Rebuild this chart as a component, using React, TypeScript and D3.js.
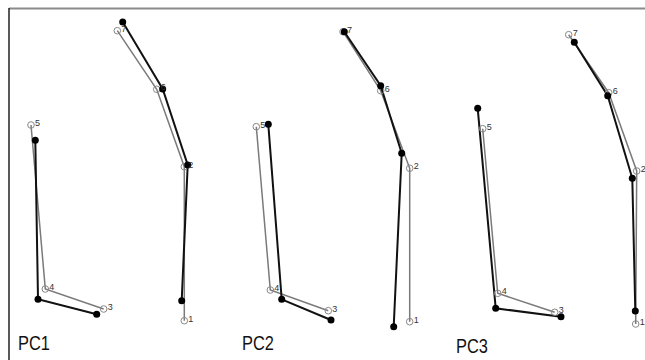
import React from "react";
import { scaleLinear, line } from "d3";

// landmark order along each outline
const armIds = [1, 2, 6, 7];
const footIds = [3, 4, 5];

// mean shape (grey, open) and PC shape (black, filled), x/y in px-like units, y up
const pc1Mean = { 1: [164.3, 9.3], 2: [164.3, 163.3], 6: [136.7, 240.7], 7: [97.3, 299.3], 5: [11, 205], 4: [25.3, 41], 3: [83.7, 21] };
const pc1Shape = { 1: [161.7, 29.3], 2: [167.7, 165], 6: [142.7, 241], 7: [102.7, 308], 5: [15.3, 189.7], 4: [18, 30.7], 3: [76.7, 15.7] };
const pc2Mean = { 1: [164.7, 8.3], 2: [164.7, 161.7], 6: [135.7, 239.3], 7: [98, 298.3], 5: [11.3, 203.3], 4: [25.3, 40], 3: [83.3, 19.3] };
const pc2Shape = { 1: [148.7, 3.3], 2: [156.7, 176.7], 6: [135.7, 244.3], 7: [99.3, 298.3], 5: [23.3, 205.7], 4: [36.7, 30.7], 3: [86, 10] };
const pc3Mean = { 1: [164.7, 6], 2: [165.7, 159], 6: [137.7, 237.3], 7: [97.7, 295.3], 5: [11.7, 201.3], 4: [26.7, 36.7], 3: [83.7, 17.7] };
const pc3Shape = { 1: [164.3, 19], 2: [161.3, 151.7], 6: [136.7, 234.3], 7: [103.3, 287.7], 5: [6.7, 221.7], 4: [24.7, 21.7], 3: [90, 13.3] };

const panelNames = ["PC1", "PC2", "PC3"];
const panelMeans = [pc1Mean, pc2Mean, pc3Mean];
const panelShapes = [pc1Shape, pc2Shape, pc3Shape];

const W = 645;
const H = 360;
const panelX = [20, 245, 471];
const labelPos = [[18, 350], [242, 350], [456, 353]];

const y = scaleLinear().domain([0, 300]).range([330, 30]);

function Panel({ i }) {
  const x = scaleLinear().domain([0, 200]).range([panelX[i], panelX[i] + 200]);
  const path = line()
    .x((d) => x(d[0]))
    .y((d) => y(d[1]));
  const mean = panelMeans[i];
  const shape = panelShapes[i];
  const ids = Object.keys(mean).map(Number);
  return (
    <g>
      {[armIds, footIds].map((seg, k) => (
        <path key={"m" + k} d={path(seg.map((id) => mean[id]))} fill="none" stroke="#7a7a7a" strokeWidth={1.5} />
      ))}
      {[armIds, footIds].map((seg, k) => (
        <path key={"s" + k} d={path(seg.map((id) => shape[id]))} fill="none" stroke="#111" strokeWidth={2} />
      ))}
      {ids.map((id) => (
        <circle key={"mc" + id} cx={x(mean[id][0])} cy={y(mean[id][1])} r={3.3} fill="none" stroke="#888" strokeWidth={1} />
      ))}
      {ids.map((id) => (
        <circle key={"sc" + id} cx={x(shape[id][0])} cy={y(shape[id][1])} r={3.5} fill="#000" />
      ))}
      {ids.map((id) => (
        <text key={"t" + id} x={x(mean[id][0]) + 4} y={y(mean[id][1]) + 1} fontSize={9} fill="#333" fontFamily="Arial, Liberation Sans, sans-serif">
          {id}
        </text>
      ))}
      <text
        transform={`translate(${labelPos[i][0]},${labelPos[i][1]}) scale(0.82,1)`}
        fontSize={20}
        fill="#111"
        fontFamily="Arial, Liberation Sans, sans-serif"
      >
        {panelNames[i]}
      </text>
    </g>
  );
}

export default function App() {
  return (
    <svg width={W} height={H} style={{ position: "absolute", left: 0, top: 0, background: "#fff" }}>
      <line x1={9} x2={W} y1={8.5} y2={8.5} stroke="#8a8a8a" strokeWidth={2} />
      <line x1={9} x2={9} y1={8} y2={H} stroke="#222" strokeWidth={1.5} />
      {panelNames.map((_, i) => (
        <Panel key={i} i={i} />
      ))}
    </svg>
  );
}
